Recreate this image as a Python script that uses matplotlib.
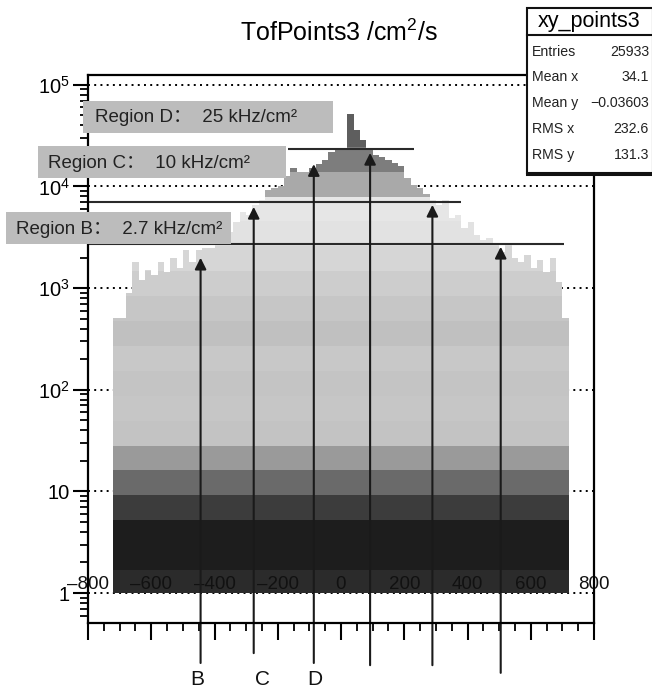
import numpy as np
import matplotlib
matplotlib.use('Agg')
import matplotlib.pyplot as plt
from matplotlib.patches import Rectangle
from matplotlib.lines import Line2D
from matplotlib.ticker import LogLocator, MultipleLocator, NullFormatter

plt.rcParams['font.family'] = ['Liberation Sans', 'Noto Sans CJK SC', 'DejaVu Sans']
plt.rcParams['mathtext.fontset'] = 'custom'
plt.rcParams['mathtext.rm'] = 'Liberation Sans'
plt.rcParams['mathtext.it'] = 'Liberation Sans:italic'
plt.rcParams['mathtext.bf'] = 'Liberation Sans:bold'
plt.rcParams['mathtext.default'] = 'regular'

# ---------------- data ----------------
bin_edges = np.arange(-720, 721, 20)
rate = [510, 510, 900, 1820, 1200, 1510, 1350, 1820, 1440, 1990,
        1580, 2380, 1820, 2380, 2500, 2500, 2700, 3110, 3560, 4480,
        5640, 5260, 6610, 7420, 9310, 9750, 10200, 12700, 15200, 13900,
        13900, 15200, 16600, 18200, 21800, 22900, 24000, 52000, 36000, 28800,
        24000, 20400, 19500, 18200, 17000, 15900, 12100, 10400, 9750, 8500,
        7420, 6610, 7420, 4900, 5260, 3910, 4480, 3330, 2990, 3110,
        2700, 2280, 2700, 1990, 1820, 2130, 1580, 1900, 1440, 1990,
        1150, 510]

band_edges_log = [0, 0.226, 0.471, 0.716, 0.961, 1.206, 1.451, 1.696, 1.941,
                  2.186, 2.431, 2.676, 2.921, 3.166, 3.411, 3.656, 3.901,
                  4.146, 4.391, 6.0]
band_colors = ['#2b2b2b', '#1d1d1d', '#1d1d1d', '#3c3c3c', '#6a6a6a', '#9a9a9a',
               '#c3c3c3', '#c6c6c6', '#c4c4c4', '#c8c8c8', '#c0c0c0', '#c6c6c6',
               '#cdcdcd', '#d6d6d6', '#e2e2e2', '#e6e6e6', '#a9a9a9', '#7d7d7d',
               '#5e5e5e']

region_letters = ['B', 'C', 'D']
region_texts = ['Region B\uff1a  2.7 kHz/cm\u00b2',
                'Region C\uff1a  10 kHz/cm\u00b2',
                'Region D\uff1a  25 kHz/cm\u00b2']
region_level = [2700, 7000, 23300]
region_x0 = [-800, -800, -168]
region_x1 = [705, 381, 232]

arrow_x = [-444, -276, -86, 92, 289, 505]
arrow_tip = [1990, 6300, 16600, 21400, 6600, 2550]
arrow_tail = [-0.073, -0.055, -0.073, -0.077, -0.077, -0.091]
letter_x = [-454, -248, -83]

stats_names = ['Entries', 'Mean x', 'Mean y', 'RMS x', 'RMS y']
stats_values = ['25933', '34.1', '\u22120.03603', '232.6', '131.3']

x_ticks = [-800, -600, -400, -200, 0, 200, 400, 600, 800]
x_tick_labels = ['\u2013800', '\u2013600', '\u2013400', '\u2013200', '0',
                 '200', '400', '600', '800']
y_ticks = [1, 10, 100, 1e3, 1e4, 1e5]
y_tick_labels = ['1', '10', '$10^{2}$', '$10^{3}$', '$10^{4}$', '$10^{5}$']

# ---------------- figure ----------------
W, H = 652, 690
fig = plt.figure(figsize=(W / 100, H / 100), dpi=100)


def fx(px):
    return px / W


def fy(py):
    return 1 - py / H


ax = fig.add_axes([fx(88), fy(623), fx(594) - fx(88), fy(75) - fy(623)])
ax.set_yscale('log')
ax.set_xlim(-800, 800)
ax.set_ylim(0.507, 1.25e5)

# dotted decade grid (behind fill)
for yv in y_ticks:
    ax.axhline(yv, color='black', lw=1.4, ls=(0, (1, 2.2)), zorder=0.5)

# banded histogram fill
for i, c in enumerate(band_colors):
    lo = 10 ** band_edges_log[i]
    hi = 10 ** band_edges_log[i + 1]
    ax.stairs(np.clip(rate, lo, hi), bin_edges, baseline=lo, fill=True,
              color=c, lw=0, zorder=1)

# region lines
for lvl, x0, x1 in zip(region_level, region_x0, region_x1):
    ax.hlines(lvl, x0, x1, color='#2a2a2a', lw=1.5, zorder=3)

# arrows
for xa, tip, tail in zip(arrow_x, arrow_tip, arrow_tail):
    ax.annotate('', xy=(xa, tip), xycoords='data',
                xytext=(xa, tail), textcoords=('data', 'axes fraction'),
                arrowprops=dict(arrowstyle='-|>', color='#1a1a1a', lw=1.5,
                                mutation_scale=17, shrinkA=0, shrinkB=0),
                annotation_clip=False, zorder=4)

for lx, lt in zip(letter_x, region_letters):
    ax.text(lx, -0.104, lt, transform=ax.get_xaxis_transform(), ha='center',
            va='center', fontsize=15, color='#111111', clip_on=False)

# axes styling
for sp in ax.spines.values():
    sp.set_linewidth(1.6)
    sp.set_zorder(5)
ax.set_xticks(x_ticks)
ax.set_xticklabels(x_tick_labels)
ax.xaxis.set_minor_locator(MultipleLocator(50))
ax.set_yticks(y_ticks)
ax.set_yticklabels(y_tick_labels)
ax.yaxis.set_minor_locator(LogLocator(base=10, subs=np.arange(2, 10), numticks=100))
ax.yaxis.set_minor_formatter(NullFormatter())
ax.tick_params(axis='x', which='major', direction='out', length=12, width=1.5,
               labelsize=13.5, pad=-46, top=False, labelcolor='#111111')
ax.tick_params(axis='x', which='minor', direction='out', length=6, width=1.3, top=False)
ax.tick_params(axis='y', which='major', direction='out', length=11, width=1.5,
               labelsize=14.5, pad=2, right=False)
ax.tick_params(axis='y', which='minor', direction='out', length=5.5, width=1.3, right=False)

# title
fig.text(fx(339), fy(33), 'TofPoints3 /cm$^{2}$/s', ha='center', va='center',
         fontsize=18)

# region label boxes
box_px = [(6, 212, 231, 244), (38, 146, 286, 178), (83, 101, 333, 133)]
text_left = [16, 48, 95]
for (x0, y0, x1, y1), tl, txt in zip(box_px, text_left, region_texts):
    fig.add_artist(Rectangle((fx(x0), fy(y1)), fx(x1) - fx(x0), fy(y0) - fy(y1),
                             transform=fig.transFigure, facecolor='#bcbcbc',
                             edgecolor='none', zorder=2))
    fig.text(fx(tl), fy((y0 + y1) / 2 + 1), txt, ha='left', va='center',
             fontsize=13.5, color='#222222', zorder=3,
             family=['Liberation Sans', 'Noto Sans CJK SC'])

# stats box
sx0, sy0, sx1, sy1 = 527, 8, 653, 173
fig.add_artist(Rectangle((fx(sx0), fy(sy1)), fx(sx1) - fx(sx0), fy(sy0) - fy(sy1),
                         transform=fig.transFigure, facecolor='white',
                         edgecolor='#111111', lw=1.5, zorder=2))
fig.add_artist(Line2D([fx(sx0), fx(sx1)], [fy(sy1 + 1), fy(sy1 + 1)],
                      transform=fig.transFigure, color='#111111', lw=2.2, zorder=3))
fig.add_artist(Line2D([fx(sx0), fx(sx1)], [fy(35), fy(35)],
                      transform=fig.transFigure, color='#111111', lw=1.5, zorder=3))
fig.text(fx(589), fy(22), 'xy_points3', ha='center', va='center', fontsize=15.5, zorder=4)
row_y = [52, 77, 103, 129, 155]
for ry, nm, vl in zip(row_y, stats_names, stats_values):
    fig.text(fx(532), fy(ry), nm, ha='left', va='center', fontsize=10.2, zorder=4,
             color='#222222')
    fig.text(fx(649), fy(ry), vl, ha='right', va='center', fontsize=10.2, zorder=4,
             color='#222222')

fig.savefig('out.png', dpi=100)
